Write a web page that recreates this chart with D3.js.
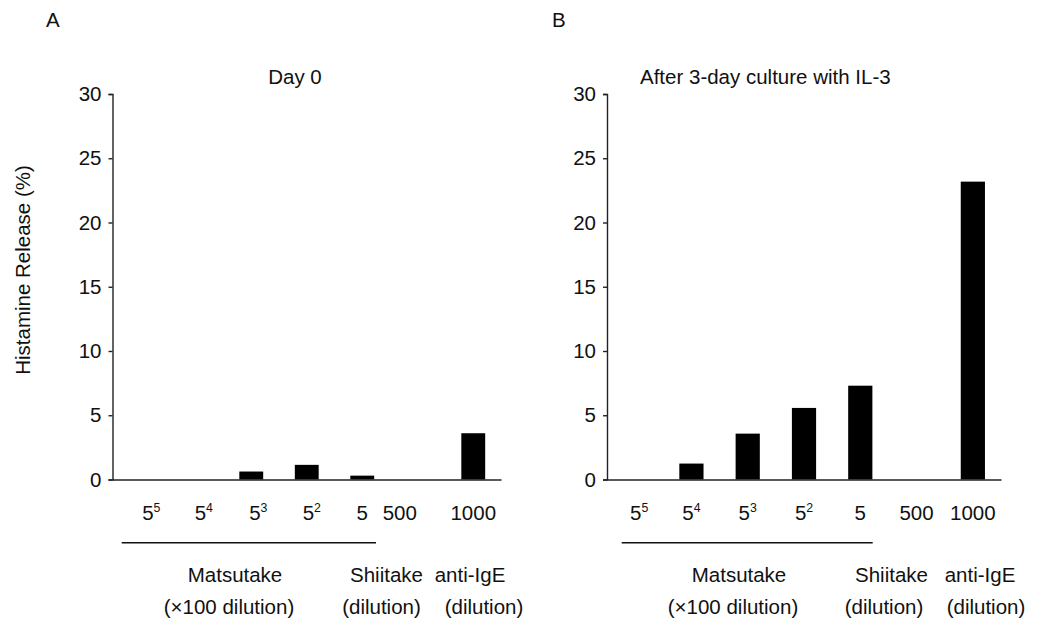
<!DOCTYPE html>
<html>
<head>
<meta charset="utf-8">
<script src="https://cdn.jsdelivr.net/npm/d3@7"></script>
<style>
  html, body { margin: 0; padding: 0; background: #fff; }
  svg { display: block; }
  text { font-family: "Liberation Sans", Arial, Helvetica, sans-serif; fill: #111; }
</style>
</head>
<body>
<svg id="chart" width="1047" height="628"></svg>
<script>
// ---------------- data ----------------
const categories = ["5^5", "5^4", "5^3", "5^2", "5", "500", "1000"];
const tickBase = ["5", "5", "5", "5", "5", "500", "1000"];
const tickSup = ["5", "4", "3", "2", "", "", ""];
const day0Values = [0, 0, 0.62, 1.14, 0.3, 0, 3.6];
const il3Values = [0, 1.24, 3.57, 5.57, 7.3, 0, 23.18];
const yTicks = [0, 5, 10, 15, 20, 25, 30];
const groupNames = ["Matsutake", "Shiitake", "anti-IgE"];
const groupUnits = ["(\u00d7100 dilution)", "(dilution)", "(dilution)"];
const panelLetters = ["A", "B"];
const panelTitles = ["Day 0", "After 3-day culture with IL-3"];
const yLabel = "Histamine Release (%)";

// ---------------- layout ----------------
const FS = 20.5;
const panels = [
  { values: day0Values, x0: 112.5, x1: 501, letterX: 46, titleX: 295, titleAnchor: "middle",
    tickNudge: [11, 8, 7, 5, 0, -18, 0],
    g1X: [235, 386.5, 470], g2X: [229, 381.5, 484], lineX: [121.7, 376] },
  { values: il3Values, x0: 607, x1: 1001, letterX: 552, titleX: 640, titleAnchor: "start",
    tickNudge: [4, 0, 0, 0, 0, 0, 0],
    g1X: [739, 891.5, 980], g2X: [733, 884, 986], lineX: [621.7, 872.7] }
];
const yTop = 94, yBottom = 479.5;

const svg = d3.select("#chart");
const y = d3.scaleLinear().domain([0, 30]).range([yBottom, yTop]);

panels.forEach((p, pi) => {
  const g = svg.append("g");
  const x = d3.scaleBand().domain(categories).range([p.x0, p.x1])
    .paddingInner(0.57).paddingOuter(0.285);

  // panel letter
  g.append("text").attr("x", p.letterX).attr("y", 27)
    .attr("font-size", FS).text(panelLetters[pi]);
  // title
  g.append("text").attr("x", p.titleX).attr("y", 84)
    .attr("text-anchor", p.titleAnchor).attr("font-size", FS).text(panelTitles[pi]);

  // bars
  g.selectAll("rect.bar").data(p.values).enter().append("rect")
    .attr("class", "bar")
    .attr("x", (d, i) => x(categories[i]))
    .attr("width", x.bandwidth())
    .attr("y", d => y(d))
    .attr("height", d => y(0) - y(d))
    .attr("fill", "#000");

  // y axis
  const yAxis = d3.axisLeft(y).tickValues(yTicks).tickSize(4).tickSizeOuter(4).tickPadding(7);
  const ya = g.append("g").attr("transform", `translate(${p.x0},0)`).call(yAxis);
  ya.select(".domain").attr("stroke", "#222").attr("stroke-width", 1.4);
  ya.selectAll(".tick line").attr("stroke", "#222").attr("stroke-width", 1.4);
  ya.selectAll(".tick text").attr("font-size", FS)
    .attr("font-family", "Liberation Sans, Arial, sans-serif").attr("fill", "#111");

  // x axis baseline
  const xAxis = d3.axisBottom(x).tickSize(0).tickSizeOuter(0).tickFormat("");
  const xa = g.append("g").attr("transform", `translate(0,${y(0)})`).call(xAxis);
  xa.select(".domain").attr("stroke", "#222").attr("stroke-width", 1.6);

  // x tick labels with superscripts
  categories.forEach((c, i) => {
    const cx = x(c) + x.bandwidth() / 2 + p.tickNudge[i];
    const t = g.append("text").attr("x", cx).attr("y", 520)
      .attr("text-anchor", "middle").attr("font-size", FS);
    t.append("tspan").text(tickBase[i]);
    if (tickSup[i]) {
      t.append("tspan").attr("dy", -8).attr("font-size", FS * 0.6).text(tickSup[i]);
    }
  });

  // group underline
  g.append("line").attr("x1", p.lineX[0]).attr("x2", p.lineX[1])
    .attr("y1", 542.7).attr("y2", 542.7).attr("stroke", "#111").attr("stroke-width", 1.5);

  // group labels
  groupNames.forEach((n, i) => {
    g.append("text").attr("x", p.g1X[i]).attr("y", 582).attr("text-anchor", "middle")
      .attr("font-size", FS).text(n);
    g.append("text").attr("x", p.g2X[i]).attr("y", 614).attr("text-anchor", "middle")
      .attr("font-size", FS).text(groupUnits[i]);
  });
});

// y-axis title
svg.append("text")
  .attr("transform", "translate(29.5,270) rotate(-90)")
  .attr("text-anchor", "middle").attr("font-size", FS).text(yLabel);
</script>
</body>
</html>
